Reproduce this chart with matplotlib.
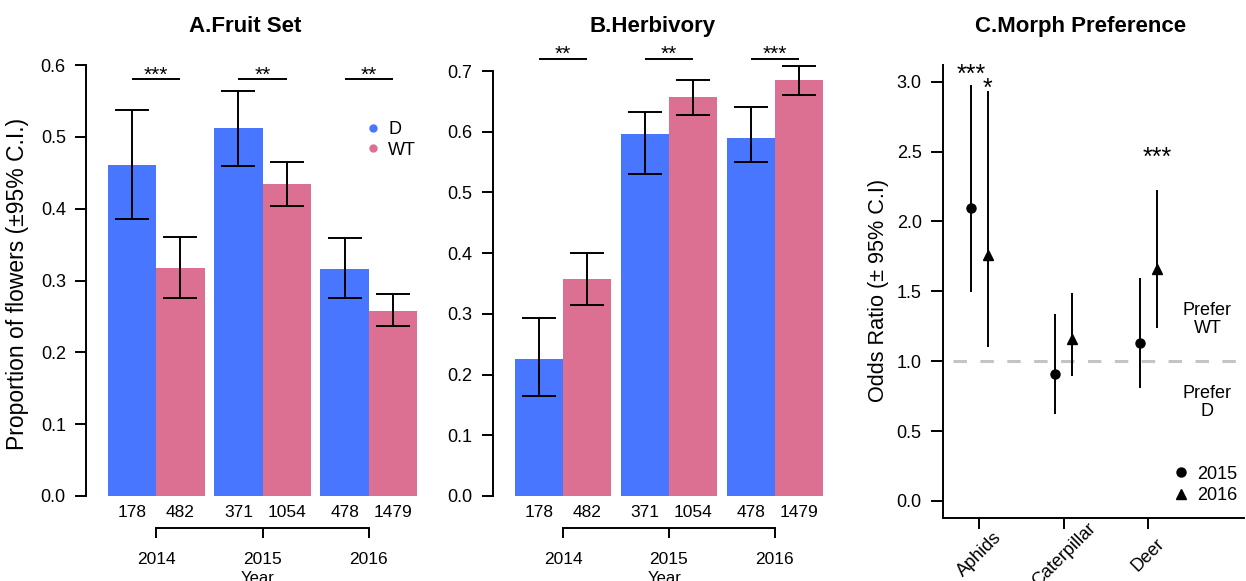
"""
Fruit set, herbivory and morph preference - D vs WT
"""

import numpy as np
import matplotlib
matplotlib.use("Agg")
import matplotlib.pyplot as plt
from matplotlib.lines import Line2D

plt.rcParams['font.family'] = ['Liberation Sans', 'DejaVu Sans']

# ---- Datos ----
years = ['2014', '2015', '2016']

# A. Fruit set (proporción de flores, IC 95%)
fruit_d = [0.461, 0.5125, 0.316]
fruit_d_lo = [0.386, 0.460, 0.275]
fruit_d_hi = [0.537, 0.5645, 0.359]
fruit_wt = [0.3176, 0.4345, 0.258]
fruit_wt_lo = [0.276, 0.404, 0.236]
fruit_wt_hi = [0.361, 0.465, 0.281]
fruit_n_d = [178, 371, 478]
fruit_n_wt = [482, 1054, 1479]
fruit_sig = ['***', '**', '**']

# B. Herbivory
herb_d = [0.2257, 0.596, 0.590]
herb_d_lo = [0.165, 0.530, 0.550]
herb_d_hi = [0.293, 0.633, 0.640]
herb_wt = [0.3575, 0.657, 0.685]
herb_wt_lo = [0.314, 0.628, 0.661]
herb_wt_hi = [0.401, 0.686, 0.708]
herb_n_d = [178, 371, 478]
herb_n_wt = [482, 1054, 1479]
herb_sig = ['**', '**', '***']

# C. Morph preference (odds ratio, IC 95%)
herbivores = ['Aphids', 'Caterpillar', 'Deer']
or_2015 = [2.096, 0.906, 1.133]
or_2015_lo = [1.498, 0.620, 0.810]
or_2015_hi = [2.975, 1.340, 1.594]
or_2016 = [1.760, 1.159, 1.659]
or_2016_lo = [1.100, 0.896, 1.236]
or_2016_hi = [2.937, 1.489, 2.227]
sig_2015 = ['***', '', '']
sig_2016 = ['*', '', '***']

# ---- Estilo ----
BLUE = '#4876FF'
PINK = '#DB7093'
W, H = 1246, 581
LW = 1.4


def box(left, right, top, bottom):
    return [left / W, 1 - bottom / H, (right - left) / W, (bottom - top) / H]


def bar_panel(ax, d, d_lo, d_hi, wt, wt_lo, wt_hi, n_d, n_wt, sig, sig_y, ymax):
    x_d = 0.7 + 2.2 * np.arange(len(d))
    x_wt = x_d + 1
    xc = x_d + 0.5
    d, wt = np.array(d), np.array(wt)

    ax.bar(x_d, d, width=1, color=BLUE, linewidth=0)
    ax.bar(x_wt, wt, width=1, color=PINK, linewidth=0)
    ax.errorbar(x_d, d, yerr=[d - np.array(d_lo), np.array(d_hi) - d], fmt='none',
                ecolor='black', elinewidth=LW, capsize=12, capthick=LW)
    ax.errorbar(x_wt, wt, yerr=[wt - np.array(wt_lo), np.array(wt_hi) - wt], fmt='none',
                ecolor='black', elinewidth=LW, capsize=12, capthick=LW)

    # lineas de significancia
    ax.hlines([sig_y] * len(xc), x_d, x_wt, color='black', lw=LW, clip_on=False)
    for x, s in zip(xc, sig):
        ax.annotate(s, xy=(x, sig_y), xytext=(0, -0.8), textcoords='offset points',
                    ha='center', va='baseline', fontsize=15, annotation_clip=False)

    # n por barra como etiquetas del eje x
    ax.set_xticks(np.concatenate([x_d, x_wt]))
    ax.set_xticklabels([str(n) for n in list(n_d) + list(n_wt)], fontsize=12.5)
    ax.tick_params(axis='x', length=0, pad=6.5)

    # eje secundario con los años
    sec = ax.secondary_xaxis(-0.0702)
    sec.set_xticks(xc)
    sec.set_xticklabels(years, fontsize=12.5)
    sec.tick_params(axis='x', length=7.5, width=LW, pad=10)
    sec.spines['bottom'].set_bounds(xc[0], xc[-1])
    sec.spines['bottom'].set_linewidth(LW)
    sec.set_xlabel('Year', fontsize=12, labelpad=2.5)

    ax.set_yticks(np.round(np.arange(0, ymax + 0.01, 0.1), 1))
    ax.yaxis.set_major_formatter(matplotlib.ticker.FormatStrFormatter('%.1f'))
    ax.tick_params(axis='y', length=8, width=LW, labelsize=13, pad=6.5)
    for s in ['top', 'right', 'bottom']:
        ax.spines[s].set_visible(False)
    ax.spines['left'].set_linewidth(LW)
    ax.spines['left'].set_bounds(0, ymax)


fig = plt.figure(figsize=(W / 100, H / 100), dpi=100)

# ---- A. Fruit Set ----
axA = fig.add_axes(box(86, 430, 40, 496))
bar_panel(axA, fruit_d, fruit_d_lo, fruit_d_hi, fruit_wt, fruit_wt_lo, fruit_wt_hi,
          fruit_n_d, fruit_n_wt, fruit_sig, 0.58, 0.6)
axA.set_xlim(-0.2557, 6.869)
axA.set_ylim(0, 456 / 718.3)
legA = axA.legend(handles=[Line2D([], [], marker='o', ls='none', color=BLUE, ms=5, label='D'),
                           Line2D([], [], marker='o', ls='none', color=PINK, ms=5, label='WT')],
                  loc='center left', bbox_to_anchor=(0.808, 0.781), frameon=False,
                  fontsize=13, handlelength=1, handletextpad=0.35, labelspacing=0.2,
                  borderpad=0, borderaxespad=0)
fig.text(17.5 / W, 1 - 284 / H, 'Proportion of flowers (±95% C.I.)', rotation=90,
         ha='center', va='center', fontsize=16.5)

# ---- B. Herbivory ----
axB = fig.add_axes(box(492.7, 836, 40, 496))
bar_panel(axB, herb_d, herb_d_lo, herb_d_hi, herb_wt, herb_wt_lo, herb_wt_hi,
          herb_n_d, herb_n_wt, herb_sig, 0.72, 0.7)
axB.set_xlim(-0.262, 6.869)
axB.set_ylim(0, 456 / 607.1)

# ---- C. Morph Preference ----
axC = fig.add_axes(box(942.7, 1244, 65, 517.7))
xs = np.arange(1, len(herbivores) + 1)
axC.axhline(1.0, xmin=0.035, color='#C4C4C4', lw=2.2, dashes=(4.4, 4.4), zorder=1)
axC.vlines(xs - 0.1, or_2015_lo, or_2015_hi, color='black', lw=LW)
axC.vlines(xs + 0.1, or_2016_lo, or_2016_hi, color='black', lw=LW)
axC.plot(xs - 0.1, or_2015, 'o', color='black', ms=6.5)
axC.plot(xs + 0.1, or_2016, '^', color='black', ms=7)

sig_y_2015 = [3.0, 0, 0]
sig_y_2016 = [2.896, 0, 2.405]
for x, s, y in zip(xs - 0.1, sig_2015, sig_y_2015):
    if s:
        axC.text(x, y, s, ha='center', va='baseline', fontsize=18)
for x, s, y in zip(xs + 0.1, sig_2016, sig_y_2016):
    if s:
        axC.text(x, y, s, ha='center', va='baseline', fontsize=18)

axC.text(3.70, 1.30, 'Prefer\nWT', ha='center', va='center', fontsize=13, linespacing=1.1)
axC.text(3.70, 0.703, 'Prefer\nD', ha='center', va='center', fontsize=13, linespacing=1.1)

axC.set_xlim(0.568, 4.132)
axC.set_ylim(-0.12, 3.12)
axC.set_yticks(np.arange(0, 3.01, 0.5))
axC.yaxis.set_major_formatter(matplotlib.ticker.FormatStrFormatter('%.1f'))
axC.set_xticks(xs)
axC.set_xticklabels(herbivores, rotation=45, ha='center', va='center', fontsize=13)
axC.tick_params(axis='x', length=7.7, width=LW, pad=19)
axC.tick_params(axis='y', length=8.4, width=LW, labelsize=13, pad=6.7)
for s in ['top', 'right']:
    axC.spines[s].set_visible(False)
for s in ['left', 'bottom']:
    axC.spines[s].set_linewidth(LW)
axC.legend(handles=[Line2D([], [], marker='o', ls='none', color='black', ms=6.5, label='2015'),
                    Line2D([], [], marker='^', ls='none', color='black', ms=7, label='2016')],
           loc='center left', bbox_to_anchor=(0.761, 0.0722), frameon=False,
           fontsize=13, handlelength=1, handletextpad=0.4, labelspacing=0.25,
           borderpad=0, borderaxespad=0)
fig.text(878.8 / W, 1 - 290.5 / H, 'Odds Ratio (± 95% C.I)', rotation=90,
         ha='center', va='center', fontsize=15.6)

# ---- Títulos ----
for xt, t in [(245.5, 'A.Fruit Set'), (652.7, 'B.Herbivory'), (1081, 'C.Morph Preference')]:
    fig.text(xt / W, 1 - 31.7 / H, t, ha='center', va='baseline', fontsize=16, fontweight='bold')

fig.savefig('out.png', dpi=100)
